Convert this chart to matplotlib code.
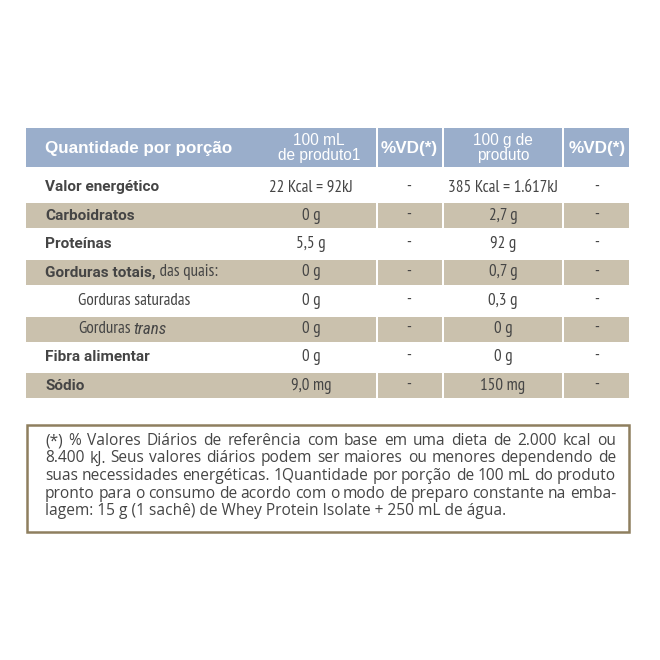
import matplotlib
matplotlib.use("Agg")
import matplotlib.pyplot as plt
from matplotlib.patches import Rectangle

########################################################################
# Table data.
header_left = "Quantidade por porção"
header_cols = ["100 mL\nde produto1", "%VD(*)", "100 g de\nproduto", "%VD(*)"]

row_labels = ["Valor energético", "Carboidratos", "Proteínas", "Gorduras totais,",
              "Gorduras saturadas", "Gorduras", "Fibra alimentar", "Sódio"]
row_suffix = ["", "", "", " das quais:", "", " trans", "", ""]
row_indent = [False, False, False, False, True, True, False, False]
values_100ml = ["22 Kcal = 92kJ", "0 g", "5,5 g", "0 g", "0 g", "0 g", "0 g", "9,0 mg"]
vd_100ml = ["-", "-", "-", "-", "-", "-", "-", "-"]
values_100g = ["385 Kcal = 1.617kJ", "2,7 g", "92 g", "0,7 g", "0,3 g", "0 g", "0 g", "150 mg"]
vd_100g = ["-", "-", "-", "-", "-", "-", "-", "-"]

footnote_lines = [
    "(*) % Valores Diários de referência com base em uma dieta de 2.000 kcal ou",
    "8.400 kJ. Seus valores diários podem ser maiores ou menores dependendo de",
    "suas necessidades energéticas. 1Quantidade por porção de 100 mL do produto",
    "pronto para o consumo de acordo com o modo de preparo constante na emba-",
    "lagem: 15 g (1 sachê) de Whey Protein Isolate + 250 mL de água.",
]

########################################################################
# Style.
BLUE = "#9aaecb"
BEIGE = "#cac1ad"
TXT = "#454545"
BORDER = "#8e7f5f"
VAL_FONT = "PT Sans Narrow"
FN_FONT = "Open Sans"

fig = plt.figure(figsize=(6.6, 6.6), dpi=100)
ax = fig.add_axes([0, 0, 1, 1])
ax.set_xlim(0, 660)
ax.set_ylim(660, 0)
ax.axis("off")
renderer = fig.canvas.get_renderer()

def text_width(s, **kw):
    t = ax.text(0, 0, s, **kw)
    w = t.get_window_extent(renderer).width
    t.remove()
    return w

# Font size that makes a string about target pixels wide.
def fit_size(s, target, **kw):
    return 10 * target / text_width(s, fontsize=10, **kw)

# Column spans (x0, x1) for the blocks.
cols = [(26, 376), (378, 442), (444, 562), (564, 629)]
col_centers = [311, 409, 503, 597]

# Header band.
for x0, x1 in cols:
    ax.add_patch(Rectangle((x0, 128), x1 - x0, 39, color=BLUE, lw=0))
hs = fit_size(header_left, 187, family="Liberation Sans", fontweight="bold")
ax.text(45, 148, header_left, color="white", fontsize=hs, fontweight="bold",
        family="Liberation Sans", va="center", ha="left")
for i, h in enumerate(header_cols):
    bold = h.startswith("%")
    ax.text(col_centers[i] if i != 0 else 319, 148, h, color="white",
            fontsize=12.3 if bold else 11.2, fontweight="bold" if bold else "normal",
            family="Liberation Sans", va="center", ha="center", linespacing=1.0)

# Body rows.
lab_size = fit_size("Valor energético", 115, family="Roboto", fontweight="bold")
val_size = fit_size("385 Kcal = 1.617kJ", 110, family=VAL_FONT)
y0, pitch = 187.5, 28.3
for i, lab in enumerate(row_labels):
    y = y0 + pitch * i
    if i % 2 == 1:
        for x0, x1 in cols:
            ax.add_patch(Rectangle((x0, y - 12.5), x1 - x0, 25, color=BEIGE, lw=0))
    if row_indent[i]:
        x = 78
        t = ax.text(x, y, lab, color=TXT, fontsize=val_size, family=VAL_FONT,
                    va="center", ha="left")
    else:
        x = 45
        t = ax.text(x, y, lab, color=TXT, fontsize=lab_size, fontweight="bold",
                    family="Roboto", va="center", ha="left")
    if row_suffix[i]:
        w = t.get_window_extent(renderer).width
        if row_suffix[i].strip() == "trans":
            # the narrow face has no italic, take a condensed italic instead
            ax.text(x + w + 3, y, row_suffix[i].strip(), color=TXT, fontsize=val_size,
                    family="Roboto Condensed", style="italic", va="center", ha="left")
        else:
            ax.text(x + w, y, row_suffix[i], color=TXT, fontsize=val_size, family=VAL_FONT,
                    va="center", ha="left")
    for j, v in enumerate([values_100ml[i], vd_100ml[i], values_100g[i], vd_100g[i]]):
        ax.text(col_centers[j], y, v, color=TXT, fontsize=val_size, family=VAL_FONT,
                va="center", ha="center")

# Footnote box with justified text.
ax.add_patch(Rectangle((27, 425), 602, 107, fill=False, ec=BORDER, lw=1.8))
fn_size = fit_size(footnote_lines[-1], 463, family=FN_FONT)
fn_kw = dict(color=TXT, fontsize=fn_size, family=FN_FONT, va="center", ha="left")
left, right = 45, 616
for k, line in enumerate(footnote_lines):
    y = 441 + 17.5 * k
    if k == len(footnote_lines) - 1:
        ax.text(left, y, line, **fn_kw)
        continue
    words = line.split(" ")
    widths = [text_width(w, **fn_kw) for w in words]
    gap = (right - left - sum(widths)) / (len(words) - 1)
    x = left
    for w, wd in zip(words, widths):
        ax.text(x, y, w, **fn_kw)
        x += wd + gap

fig.savefig("out.png", dpi=100, facecolor="white")
